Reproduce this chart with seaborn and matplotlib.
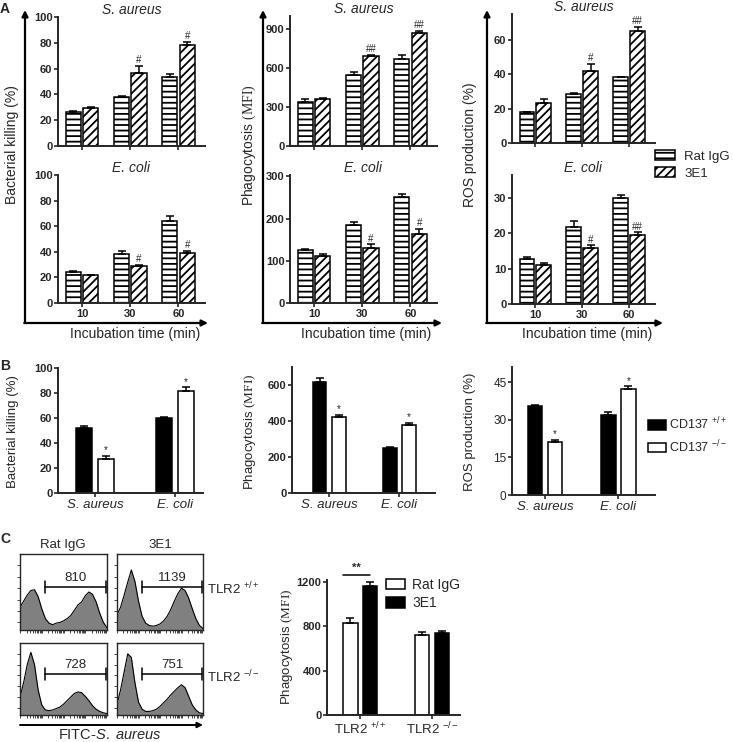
import numpy as np
import pandas as pd
import matplotlib
matplotlib.use("Agg")
import matplotlib.pyplot as plt
import seaborn as sns
from matplotlib.patches import Patch

# ---- panel A data (incubation time course, Rat IgG vs 3E1) ----
times = ["10", "30", "60"]
groups_a = ["Rat IgG", "3E1"]

kill_sa_igg = [26.5, 38, 53.3]
kill_sa_igg_err = [0.8, 0.5, 2.6]
kill_sa_3e1 = [29.5, 56.4, 78.2]
kill_sa_3e1_err = [0.4, 6, 2.8]
kill_sa_sig = ["", "#", "#"]

kill_ec_igg = [24.5, 37.9, 64.3]
kill_ec_igg_err = [0.8, 2.9, 3.7]
kill_ec_3e1 = [21.5, 28.8, 38.7]
kill_ec_3e1_err = [0.6, 1.2, 1.8]
kill_ec_sig = ["", "#", "#"]

phago_sa_igg = [340, 548, 668]
phago_sa_igg_err = [18, 20, 32]
phago_sa_3e1 = [365, 694, 866]
phago_sa_3e1_err = [8, 6, 18]
phago_sa_sig = ["", "##", "##"]

phago_ec_igg = [126, 184, 252]
phago_ec_igg_err = [2, 8, 5]
phago_ec_3e1 = [111, 131, 163]
phago_ec_3e1_err = [6, 8, 13]
phago_ec_sig = ["", "#", "#"]

ros_sa_igg = [17.8, 28.3, 38.2]
ros_sa_igg_err = [0.4, 0.6, 0.4]
ros_sa_3e1 = [23.4, 42, 65.2]
ros_sa_3e1_err = [2, 3.9, 2.5]
ros_sa_sig = ["", "#", "##"]

ros_ec_igg = [12.6, 21.7, 29.9]
ros_ec_igg_err = [0.8, 1.8, 0.8]
ros_ec_3e1 = [11, 15.8, 19.5]
ros_ec_3e1_err = [0.7, 0.8, 0.8]
ros_ec_sig = ["", "#", "##"]

# ---- panel B data (CD137 +/+ vs -/-) ----
bacteria = ["S. aureus", "E. coli"]
groups_b = [r"CD137 $^{\mathsf{+/+}}$", r"CD137 $^{\mathsf{-/-}}$"]

b_kill_wt = [52, 60]
b_kill_wt_err = [1.5, 1]
b_kill_ko = [27, 82]
b_kill_ko_err = [2.5, 2.5]

b_phago_wt = [616, 248]
b_phago_wt_err = [25, 10]
b_phago_ko = [424, 378]
b_phago_ko_err = [12, 12]

b_ros_wt = [35.3, 32]
b_ros_wt_err = [0.4, 1]
b_ros_ko = [21.2, 42.3]
b_ros_ko_err = [0.8, 1]
b_sig = ["*", "*"]

# ---- panel C data ----
tlr2 = [r"TLR2 $^{\mathsf{+/+}}$", r"TLR2 $^{\mathsf{-/-}}$"]
groups_c = ["Rat IgG", "3E1"]
c_igg = [830, 725]
c_igg_err = [45, 24]
c_3e1 = [1168, 740]
c_3e1_err = [30, 20]

# flow histograms (relative counts per FITC bin)
hist_igg_wt = [0.30, 0.38, 0.46, 0.52, 0.53, 0.44, 0.28, 0.15, 0.09, 0.07, 0.09, 0.10, 0.12,
               0.15, 0.19, 0.26, 0.33, 0.37, 0.45, 0.50, 0.47, 0.37, 0.22, 0.10, 0.03]
hist_3e1_wt = [0.20, 0.30, 0.46, 0.63, 0.79, 0.64, 0.38, 0.18, 0.09, 0.06, 0.05, 0.06, 0.08,
               0.12, 0.18, 0.27, 0.38, 0.48, 0.55, 0.52, 0.42, 0.28, 0.15, 0.06, 0.02]
hist_igg_ko = [0.25, 0.45, 0.70, 0.87, 0.70, 0.35, 0.14, 0.07, 0.06, 0.07, 0.09, 0.11, 0.15,
               0.20, 0.25, 0.30, 0.32, 0.31, 0.26, 0.20, 0.13, 0.08, 0.05, 0.03, 0.02]
hist_3e1_ko = [0.15, 0.35, 0.60, 0.85, 0.80, 0.45, 0.18, 0.08, 0.05, 0.05, 0.06, 0.08, 0.12,
               0.17, 0.22, 0.28, 0.33, 0.38, 0.42, 0.38, 0.26, 0.14, 0.07, 0.03, 0.02]
gate_mfi = ["810", "1139", "728", "751"]

# ---- style ----
sns.set_style("ticks")
plt.rcParams["font.family"] = ["Liberation Sans", "DejaVu Sans"]
plt.rcParams["mathtext.fontset"] = "custom"
plt.rcParams["mathtext.rm"] = "Liberation Serif"
plt.rcParams["mathtext.sf"] = "Liberation Sans"
plt.rcParams["mathtext.it"] = "Liberation Sans:italic"
plt.rcParams["hatch.linewidth"] = 1.3
plt.rcParams["axes.linewidth"] = 1.4

W, H = 733, 742
fig = plt.figure(figsize=(W / 100, H / 100), dpi=100)

# overlay in pixel coordinates for arrows / free labels
ov = fig.add_axes([0, 0, 1, 1])
ov.set_xlim(0, W)
ov.set_ylim(H, 0)
ov.axis("off")


def px_axes(x0, y0, x1, y1):
    return fig.add_axes([x0 / W, 1 - y1 / H, (x1 - x0) / W, (y1 - y0) / H])


def grouped_bars(ax, cats, names, vals, errs, colors, hatches, width, gap, sig=None):
    df = pd.DataFrame({
        "cat": [c for _ in names for c in cats],
        "grp": [n for n in names for _ in cats],
        "val": [v for vs in vals for v in vs],
    })
    sns.barplot(data=df, x="cat", y="val", hue="grp", order=cats, hue_order=names,
                palette=dict(zip(names, colors)), saturation=1, edgecolor="black",
                linewidth=1.1, width=width, gap=gap, errorbar=None, legend=False, ax=ax)
    n = len(cats)
    for i in range(len(names)):
        ps = ax.patches[i * n:(i + 1) * n]
        for p in ps:
            p.set_hatch(hatches[i])
        cx = [p.get_x() + p.get_width() / 2 for p in ps]
        hs = [p.get_height() for p in ps]
        ax.errorbar(cx, hs, yerr=[np.zeros(n), errs[i]], fmt="none", ecolor="black",
                    elinewidth=1.1, capsize=2.8, capthick=1.1, zorder=3)
        if sig is not None and i == len(names) - 1:
            for x, h, e, s in zip(cx, hs, errs[i], sig):
                if s:
                    ax.annotate(s, (x, h + e), xytext=(0, 0.5), textcoords="offset points",
                                ha="center", va="bottom", fontsize=7)
    ax.set_xlabel("")
    ax.set_ylabel("")


def style_ax(ax, ylim, yticks, xlim, xlabels=None, ybold=True, xstyle=None, xsize=8):
    sns.despine(ax=ax)
    ax.set_ylim(*ylim)
    ax.set_yticks(yticks)
    ax.set_xlim(*xlim)
    ax.tick_params(direction="out", length=3, width=1.2, labelsize=8, pad=1)
    if xlabels is None:
        ax.set_xticklabels([])
    else:
        ax.set_xticklabels(xlabels, fontsize=xsize, fontweight="bold" if xstyle == "bold" else "normal",
                           fontstyle="italic" if xstyle == "italic" else "normal")
    for lab in ax.get_yticklabels():
        lab.set_fontweight("bold" if ybold else "normal")
        if not ybold:
            lab.set_fontsize(8.5)


# ---- Panel A ----
white2 = ["white", "white"]
hatch_a = ["---", "////"]
xl_a = (-0.5, 2.55)

a11 = px_axes(58, 17, 205, 146)
grouped_bars(a11, times, groups_a, [kill_sa_igg, kill_sa_3e1], [kill_sa_igg_err, kill_sa_3e1_err],
             white2, hatch_a, 0.72, 0.12, kill_sa_sig)
style_ax(a11, (0, 100), [0, 20, 40, 60, 80, 100], xl_a)

a21 = px_axes(58, 175, 205, 303)
grouped_bars(a21, times, groups_a, [kill_ec_igg, kill_ec_3e1], [kill_ec_igg_err, kill_ec_3e1_err],
             white2, hatch_a, 0.72, 0.12, kill_ec_sig)
style_ax(a21, (0, 100), [0, 20, 40, 60, 80, 100], xl_a, times, xstyle="bold")

a12 = px_axes(290, 16, 437, 146)
grouped_bars(a12, times, groups_a, [phago_sa_igg, phago_sa_3e1], [phago_sa_igg_err, phago_sa_3e1_err],
             white2, hatch_a, 0.72, 0.12, phago_sa_sig)
style_ax(a12, (0, 1000), [0, 300, 600, 900], xl_a)

a22 = px_axes(290, 175, 437, 303)
grouped_bars(a22, times, groups_a, [phago_ec_igg, phago_ec_3e1], [phago_ec_igg_err, phago_ec_3e1_err],
             white2, hatch_a, 0.72, 0.12, phago_ec_sig)
style_ax(a22, (0, 303), [0, 100, 200, 300], xl_a, times, xstyle="bold")

a13 = px_axes(512, 14, 655, 143)
grouped_bars(a13, times, groups_a, [ros_sa_igg, ros_sa_3e1], [ros_sa_igg_err, ros_sa_3e1_err],
             white2, hatch_a, 0.72, 0.12, ros_sa_sig)
style_ax(a13, (0, 75), [0, 20, 40, 60], xl_a)

a23 = px_axes(512, 175, 655, 304)
grouped_bars(a23, times, groups_a, [ros_ec_igg, ros_ec_3e1], [ros_ec_igg_err, ros_ec_3e1_err],
             white2, hatch_a, 0.72, 0.12, ros_ec_sig)
style_ax(a23, (0, 36.5), [0, 10, 20, 30], xl_a, times, xstyle="bold")

for ax in (a11, a12, a13):
    ax.set_title("S. aureus", fontsize=10, fontstyle="italic", pad=0.5)
for ax in (a21, a22, a23):
    ax.set_title("E. coli", fontsize=10, fontstyle="italic", pad=0.5)

arrow_kw = dict(arrowstyle="-|>", lw=1.6, color="black", mutation_scale=9, shrinkA=0, shrinkB=0)
for xa, xe in ((25, 208), (263, 442), (487, 663)):
    ov.annotate("", xy=(xa, 10), xytext=(xa, 323), arrowprops=arrow_kw)
    ov.annotate("", xy=(xe, 323), xytext=(xa - 0.8, 323), arrowprops=arrow_kw)

for x in (135, 366, 587):
    ov.text(x, 334, "Incubation time (min)", fontsize=10, ha="center", va="center")

ylab_a = ["Bacterial killing (%)", r"Phagocytosis $\mathrm{(MFI)}$", "ROS production (%)"]
for x, s in zip((12, 249, 470), ylab_a):
    ov.text(x, 145, s, fontsize=10, rotation=90, ha="center", va="center")

fig.legend([Patch(facecolor="white", edgecolor="black", hatch=h, lw=1.1) for h in hatch_a], groups_a,
           loc="upper left", bbox_to_anchor=(655 / W, 1 - 150 / H), frameon=False, fontsize=9.5,
           handlelength=1.5, handleheight=0.8, handletextpad=0.7, labelspacing=0.35,
           borderpad=0, borderaxespad=0)

# ---- Panel B ----
wk = ["black", "white"]
b1 = px_axes(58, 368, 203, 493)
grouped_bars(b1, bacteria, groups_b, [b_kill_wt, b_kill_ko], [b_kill_wt_err, b_kill_ko_err],
             wk, ["", ""], 0.55, 0.28, b_sig)
style_ax(b1, (0, 100), [0, 20, 40, 60, 80, 100], (-0.46, 1.35), bacteria, xstyle="italic", xsize=9.5)

b2 = px_axes(292, 367, 435, 493)
grouped_bars(b2, bacteria, groups_b, [b_phago_wt, b_phago_ko], [b_phago_wt_err, b_phago_ko_err],
             wk, ["", ""], 0.55, 0.28, b_sig)
style_ax(b2, (0, 700), [0, 200, 400, 600], (-0.53, 1.51), bacteria, xstyle="italic", xsize=9.5)

b3 = px_axes(512, 367, 655, 495)
grouped_bars(b3, bacteria, groups_b, [b_ros_wt, b_ros_ko], [b_ros_wt_err, b_ros_ko_err],
             wk, ["", ""], 0.55, 0.28, b_sig)
style_ax(b3, (0, 51), [0, 15, 30, 45], (-0.45, 1.5), bacteria, ybold=False, xstyle="italic", xsize=9.5)

ylab_b = ["Bacterial killing (%)", r"Phagocytosis $\mathrm{(MFI)}$", "ROS production (%)"]
for x, s in zip((13, 250, 470), ylab_b):
    ov.text(x, 432, s, fontsize=9.5, rotation=90, ha="center", va="center")

fig.legend([Patch(facecolor=col, edgecolor="black", lw=1.1) for col in wk], groups_b,
           loc="upper left", bbox_to_anchor=(648 / W, 1 - 416 / H), frameon=False, fontsize=9,
           handlelength=1.4, handleheight=0.85, handletextpad=0.3, labelspacing=0.45,
           borderpad=0, borderaxespad=0)

# ---- Panel C: bar chart ----
c = px_axes(327, 580, 460, 715)
grouped_bars(c, tlr2, groups_c, [c_igg, c_3e1], [c_igg_err, c_3e1_err],
             ["white", "black"], ["", ""], 0.55, 0.26)
style_ax(c, (0, 1220), [0, 400, 800, 1200], (-0.46, 1.39), tlr2, xsize=9.5)
p_w, p_b = c.patches[0], c.patches[2]
c.plot([p_w.get_x(), p_b.get_x() + p_b.get_width() / 2], [1265, 1265], color="black", lw=1.1,
       clip_on=False)
c.text((p_w.get_x() + p_b.get_x() + p_b.get_width() / 2) / 2, 1285, "**", ha="center",
       va="bottom", fontsize=8, fontweight="bold")
ov.text(287, 647, r"Phagocytosis $\mathrm{(MFI)}$", fontsize=9.5, rotation=90, ha="center", va="center")
c.legend([Patch(facecolor=col, edgecolor="black", lw=1.1) for col in ("white", "black")], groups_c,
         loc="upper left", bbox_to_anchor=(386 / W, 1 - 578 / H), bbox_transform=fig.transFigure,
         frameon=False, fontsize=10, handlelength=1.4, handleheight=0.8, handletextpad=0.5,
         labelspacing=0.3, borderpad=0, borderaxespad=0)

# ---- Panel C: flow histograms ----
hist_boxes = [(20, 554, 107, 630), (117, 554, 203, 630), (20, 643, 107, 715), (117, 643, 203, 715)]
hist_vals = [hist_igg_wt, hist_3e1_wt, hist_igg_ko, hist_3e1_ko]
for box, vals, mfi in zip(hist_boxes, hist_vals, gate_mfi):
    ax = px_axes(*box)
    idx = np.arange(len(vals))
    ax.fill_between(idx, vals, color="#808080", lw=0)
    sns.lineplot(x=idx, y=vals, color="black", lw=0.8, ax=ax)
    n = len(vals) - 1
    ax.set_xlim(0, n)
    ax.set_ylim(0, 1)
    for s in ax.spines.values():
        s.set_linewidth(1.0)
    ax.set_xticks([n / 4 * (d + np.log10(k)) for d in range(4) for k in range(1, 10)])
    ax.set_yticks([0.1, 0.25, 0.4, 0.55, 0.7, 0.85])
    ax.tick_params(direction="out", length=2, width=0.6, labelbottom=False, labelleft=False)
    gy = 0.57
    ax.plot([0.29, 0.99], [gy, gy], color="black", lw=1.1, transform=ax.transAxes)
    for gx in (0.29, 0.99):
        ax.plot([gx, gx], [gy - 0.08, gy + 0.08], color="black", lw=1.1, transform=ax.transAxes)
    ax.text(0.64, gy + 0.04, mfi, transform=ax.transAxes, ha="center", va="bottom", fontsize=9.5)

ov.text(63, 545, "Rat IgG", fontsize=9.5, ha="center", va="center")
ov.text(160, 545, "3E1", fontsize=9.5, ha="center", va="center")
ov.text(207, 589, r"TLR2 $^{\mathsf{+/+}}$", fontsize=9.5, ha="left", va="center")
ov.text(207, 677, r"TLR2 $^{\mathsf{-/-}}$", fontsize=9.5, ha="left", va="center")
ov.annotate("", xy=(203, 725), xytext=(20, 725),
            arrowprops=dict(arrowstyle="-|>", lw=1.4, color="black", mutation_scale=8, shrinkA=0, shrinkB=0))
ov.text(110, 735, r"FITC-$\mathit{S.\ aureus}$", fontsize=10.5, ha="center", va="center")

# panel letters
for x, y, s in ((5, 9, "A"), (5, 366, "B"), (5, 539, "C")):
    ov.text(x, y, s, fontsize=10, fontweight="bold", ha="center", va="center")

fig.savefig("out.png", dpi=100)
